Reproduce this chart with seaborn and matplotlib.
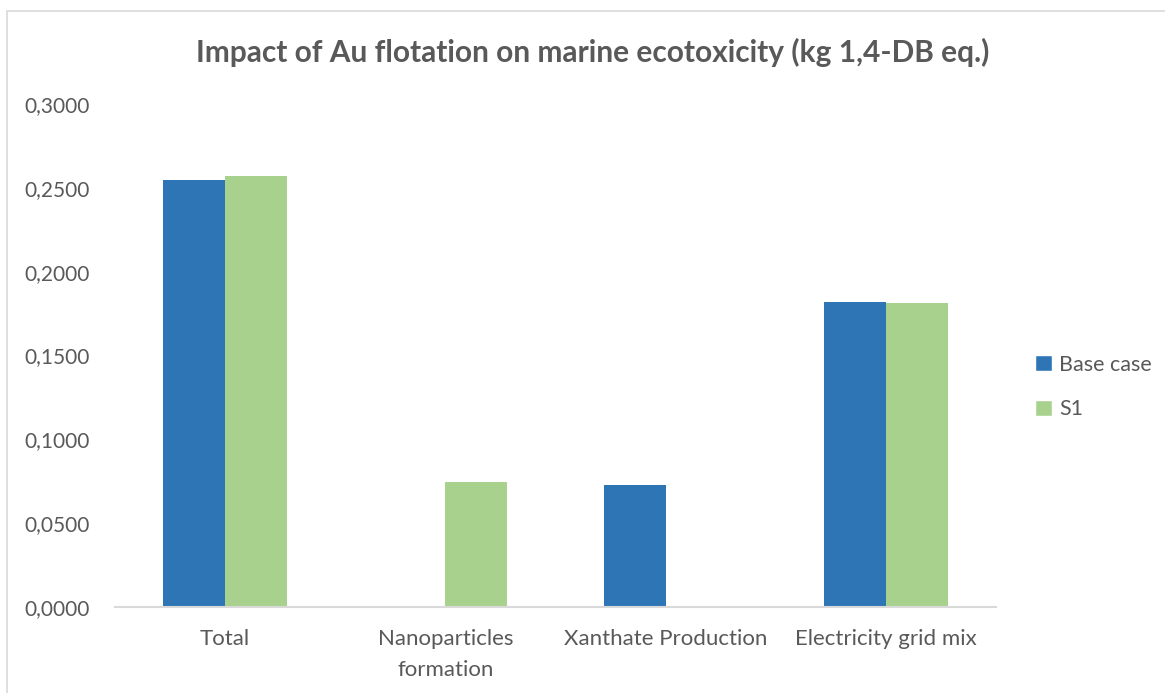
import matplotlib
matplotlib.use("Agg")
import matplotlib.pyplot as plt
from matplotlib.patches import Rectangle
from matplotlib.ticker import FuncFormatter
import seaborn as sns
import pandas as pd

categories = ["Total", "Nanoparticles\nformation", "Xanthate Production", "Electricity grid mix"]
series_names = ["Base case", "S1"]
base_case = [0.2547, 0.0, 0.0728, 0.1819]
s1 = [0.2571, 0.0746, 0.0, 0.1811]
y_ticks = [0.0, 0.05, 0.10, 0.15, 0.20, 0.25, 0.30]

colors = ["#2E75B6", "#A9D18E"]
text_grey = "#595959"

df = pd.DataFrame({
    "category": categories * 2,
    "series": [series_names[0]] * 4 + [series_names[1]] * 4,
    "value": base_case + s1,
})

sns.set_theme(style="white")
plt.rcParams["font.family"] = ["Lato", "DejaVu Sans"]

fig = plt.figure(figsize=(11.65, 6.93), dpi=100)
ax = fig.add_axes([115 / 1165, 1 - 607 / 693, (996 - 115) / 1165, (607 - 104) / 693])

sns.barplot(data=df, x="category", y="value", hue="series", order=categories,
            hue_order=series_names, palette=colors, width=0.5636, saturation=1,
            linewidth=0, ax=ax, legend=False)

ax.set_ylim(0, 0.3)
ax.set_xlim(-0.5, 3.5)
ax.set_yticks(y_ticks)
ax.yaxis.set_major_formatter(FuncFormatter(lambda v, p: f"{v:.4f}".replace(".", ",")))
ax.tick_params(axis="y", length=0, pad=18, labelsize=15, labelcolor=text_grey)
ax.tick_params(axis="x", length=0, pad=16, labelsize=16, labelcolor=text_grey)
ax.set_xlabel("")
ax.set_ylabel("")
for side in ["top", "right", "left"]:
    ax.spines[side].set_visible(False)
ax.spines["bottom"].set_color("#D9D9D9")
ax.spines["bottom"].set_linewidth(1.5)
for lbl in ax.get_xticklabels():
    lbl.set_linespacing(1.65)

fig.text(593 / 1165, 1 - 52 / 693, "Impact of Au flotation on marine ecotoxicity (kg 1,4-DB eq.)",
         ha="center", va="center", fontsize=21.5, fontweight="bold", color=text_grey)

# legend
handles = [Rectangle((0, 0), 1, 1, facecolor=c) for c in colors]
fig.legend(handles, series_names, loc="center left", bbox_to_anchor=(1016 / 1165, 1 - 387 / 693),
           frameon=False, fontsize=15.5, labelcolor=text_grey, handlelength=0.75, handleheight=0.75,
           handletextpad=0.35, labelspacing=1.15)

# chart area border
fig.add_artist(Rectangle((7 / 1165, -0.05), 1.2, 1 - 11 / 693 + 0.05, transform=fig.transFigure,
                         fill=False, edgecolor="#D9D9D9", linewidth=1.2))

fig.savefig("out.png", dpi=100, facecolor="white")
